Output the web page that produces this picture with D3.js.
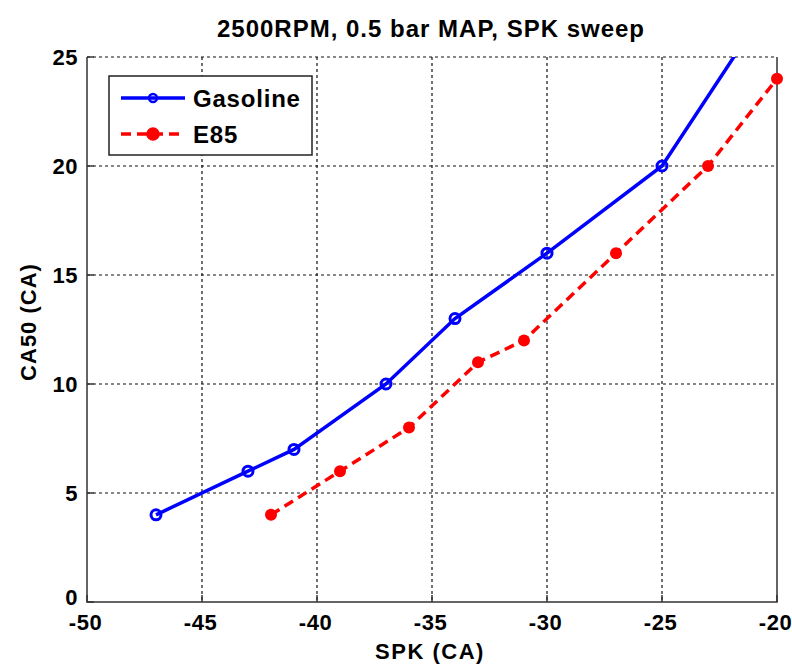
<!DOCTYPE html>
<html>
<head>
<meta charset="utf-8">
<script src="https://cdn.jsdelivr.net/npm/d3@7"></script>
<style>
  body { margin: 0; background: #fff; }
  svg text { font-family: "Liberation Sans", Arial, sans-serif; font-weight: bold; }
</style>
</head>
<body>
<svg id="chart"></svg>
<script>
// data
var spkGasoline = [-47, -43, -41, -37, -34, -30, -25, -20];
var ca50Gasoline = [4, 6, 7, 10, 13, 16, 20, 28];
var spkE85 = [-42, -39, -36, -33, -31, -27, -23, -20];
var ca50E85 = [4, 6, 8, 11, 12, 16, 20, 24];
var xTicks = [-50, -45, -40, -35, -30, -25, -20];
var yTicks = [0, 5, 10, 15, 20, 25];

var W = 792, H = 666;
var margin = {top: 57, right: 15, bottom: 64, left: 87},
    width = 777 - margin.left,
    height = 602 - margin.top;

var svg = d3.select("#chart").attr("width", W).attr("height", H);
var g = svg.append("g")
    .attr("transform", "translate(" + margin.left + "," + margin.top + ")");

var x = d3.scaleLinear().domain([-50, -20]).range([0, width]);
var y = d3.scaleLinear().domain([0, 25]).range([height, 0]);

g.append("defs").append("clipPath").attr("id", "clip")
  .append("rect").attr("width", width).attr("height", height);

/** grid **/
g.selectAll(".gx").data(xTicks.slice(1, -1)).enter().append("line")
    .attr("x1", function(d) { return x(d); }).attr("x2", function(d) { return x(d); })
    .attr("y1", 0).attr("y2", height)
    .attr("stroke", "#111").attr("stroke-width", 1.2).attr("stroke-dasharray", "3,3");
g.selectAll(".gy").data(yTicks.slice(1, -1)).enter().append("line")
    .attr("y1", function(d) { return y(d); }).attr("y2", function(d) { return y(d); })
    .attr("x1", 0).attr("x2", width)
    .attr("stroke", "#111").attr("stroke-width", 1.2).attr("stroke-dasharray", "3,3");
g.append("line").attr("x1", 0).attr("x2", width).attr("y1", 0).attr("y2", 0)
    .attr("stroke", "#111").attr("stroke-dasharray", "3,3");

/** axes **/
var fmt = function(d) { return String(d); };
var xAxis = d3.axisBottom(x).tickValues(xTicks).tickFormat(fmt).tickSize(0).tickPadding(12);
var yAxis = d3.axisLeft(y).tickValues(yTicks).tickFormat(fmt).tickSize(0).tickPadding(9);

g.append("g").attr("transform", "translate(0," + height + ")").call(xAxis)
  .call(function(s) { s.select(".domain").remove(); })
  .selectAll("text").style("font-size", "22px").style("letter-spacing", "0.5px")
  .attr("fill", "#000").attr("dx", "-2");
g.append("g").call(yAxis)
  .call(function(s) { s.select(".domain").remove(); })
  .selectAll("text").style("font-size", "22px").style("letter-spacing", "0.5px")
  .attr("fill", "#000")
  .attr("dy", function(d) { return d == 0 ? "0.1em" : "0.36em"; });

// tick marks inside
g.selectAll(".tx").data(xTicks).enter().append("line")
    .attr("x1", function(d) { return x(d); }).attr("x2", function(d) { return x(d); })
    .attr("y1", height).attr("y2", height - 7).attr("stroke", "#333").attr("stroke-width", 1.5);
g.selectAll(".ty").data(yTicks).enter().append("line")
    .attr("y1", function(d) { return y(d); }).attr("y2", function(d) { return y(d); })
    .attr("x1", 0).attr("x2", 7).attr("stroke", "#333").attr("stroke-width", 1.5);

// box
g.append("path")
    .attr("d", "M0,0V" + height + "H" + width + "V0")
    .attr("fill", "none").attr("stroke", "#333").attr("stroke-width", 1.5);

/** series **/
var gas = spkGasoline.map(function(d, i) { return [d, ca50Gasoline[i]]; });
var e85 = spkE85.map(function(d, i) { return [d, ca50E85[i]]; });
var line = d3.line().x(function(d) { return x(d[0]); }).y(function(d) { return y(d[1]); });

var plot = g.append("g").attr("clip-path", "url(#clip)");
plot.append("path").datum(gas).attr("d", line)
    .attr("fill", "none").attr("stroke", "#0000ff").attr("stroke-width", 3.5);
plot.selectAll(".gm").data(gas).enter().append("circle")
    .attr("cx", function(d) { return x(d[0]); }).attr("cy", function(d) { return y(d[1]); })
    .attr("r", 5).attr("fill", "none").attr("stroke", "#0000ff").attr("stroke-width", 3);

plot.append("path").datum(e85).attr("d", line)
    .attr("fill", "none").attr("stroke", "#ff0000").attr("stroke-width", 3.5)
    .attr("stroke-dasharray", "10,6");
g.selectAll(".em").data(e85).enter().append("circle")
    .attr("cx", function(d) { return x(d[0]); }).attr("cy", function(d) { return y(d[1]); })
    .attr("r", 6).attr("fill", "#ff0000");

/** labels **/
svg.append("text").attr("x", 431).attr("y", 37).attr("text-anchor", "middle")
    .style("font-size", "24px").style("letter-spacing", "1px")
    .text("2500RPM, 0.5 bar MAP, SPK sweep");
svg.append("text").attr("x", 430).attr("y", 659).attr("text-anchor", "middle")
    .style("font-size", "22px").style("letter-spacing", "1.5px").text("SPK (CA)");
svg.append("text").attr("transform", "translate(36,322) rotate(-90)")
    .attr("text-anchor", "middle").style("font-size", "22px").style("letter-spacing", "1px")
    .text("CA50 (CA)");

/** legend **/
var lg = svg.append("g").attr("transform", "translate(109,76)");
lg.append("rect").attr("width", 203).attr("height", 79)
    .attr("fill", "#fff").attr("stroke", "#222").attr("stroke-width", 1.5);
var legendItems = [
  {name: "Gasoline", color: "#0000ff", dash: null, fill: "none", y: 22},
  {name: "E85", color: "#ff0000", dash: "10,6", fill: "#ff0000", y: 58}
];
legendItems.forEach(function(it) {
  lg.append("line").attr("x1", 12).attr("x2", 76).attr("y1", it.y).attr("y2", it.y)
    .attr("stroke", it.color).attr("stroke-width", 3.5).attr("stroke-dasharray", it.dash);
  lg.append("circle").attr("cx", 44).attr("cy", it.y).attr("r", it.fill == "none" ? 4 : 5.5)
    .attr("fill", it.fill).attr("stroke", it.color).attr("stroke-width", 2.5);
  lg.append("text").attr("x", 84).attr("y", it.y).attr("dy", "0.36em")
    .style("font-size", "24px").style("letter-spacing", "0.8px").text(it.name);
});
</script>
</body>
</html>
